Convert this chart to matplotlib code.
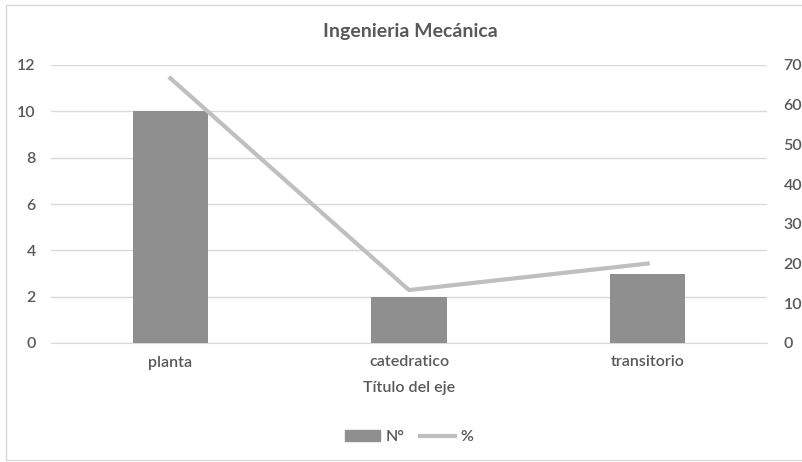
import matplotlib.pyplot as plt
from matplotlib.patches import Rectangle
from matplotlib.lines import Line2D

categorias = ['planta', 'catedratico', 'transitorio']
n_valores = [10, 2, 3]
porcentajes = [66.67, 13.33, 20.0]

plt.rcParams['font.family'] = ['Lato', 'DejaVu Sans']
plt.rcParams['font.weight'] = 'semibold'
TXT = '#595959'

fig = plt.figure(figsize=(8.02, 4.62), dpi=100)
ax = fig.add_axes([51/802, 1-343/462, (767-51)/802, (343-65)/462])
ax2 = ax.twinx()

x = list(range(len(categorias)))
ax.bar(x, n_valores, width=0.315, color='#8f8f8f', zorder=3)
ax2.plot(x, porcentajes, color='#bfbfbf', linewidth=3, zorder=4)

ax.set_xlim(-0.5, 2.5)
ax.set_ylim(0, 12)
ax.set_yticks(range(0, 13, 2))
ax2.set_ylim(0, 70)
ax2.set_yticks(range(0, 71, 10))
ax.set_xticks(x)
ax.set_xticklabels(categorias)

ax.yaxis.grid(True, color='#d9d9d9', linewidth=1)
ax.set_axisbelow(True)
for a in (ax, ax2):
    for s in a.spines.values():
        s.set_visible(False)
    a.tick_params(length=0, labelsize=11.5, colors=TXT)
    for lbl in a.get_xticklabels() + a.get_yticklabels():
        lbl.set_fontweight('semibold')
ax.spines['bottom'].set_visible(True)
ax.spines['bottom'].set_color('#d9d9d9')
ax.tick_params(axis='y', pad=11)
ax2.tick_params(axis='y', pad=12)
ax.tick_params(axis='x', pad=9)

ax.set_xlabel('Título del eje', fontsize=11.5, color=TXT, labelpad=8,
              fontweight='semibold')
fig.text(0.512, 1-32/462, 'Ingenieria Mecánica', ha='center', va='center',
         fontsize=14, color=TXT, fontweight='bold')

handles = [Rectangle((0, 0), 1, 1, color='#8f8f8f'),
           Line2D([], [], color='#bfbfbf', linewidth=3)]
fig.legend(handles, ['N°', '%'], loc='center', bbox_to_anchor=(0.51, 1-437/462),
           ncol=2, frameon=False, labelcolor=TXT,
           prop={'size': 11.5, 'weight': 'semibold'},
           handlelength=2.2, handletextpad=0.3, columnspacing=1.0)

fig.patches.append(Rectangle((6/802, 2/462), 1, 1-7/462, transform=fig.transFigure,
                             fill=False, edgecolor='#d9d9d9', linewidth=1))

fig.savefig('out.png', dpi=100)
